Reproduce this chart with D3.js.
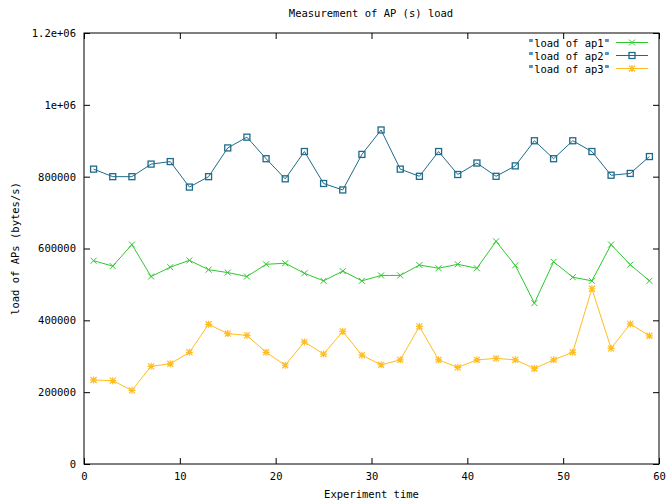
<!DOCTYPE html>
<html>
<head>
<meta charset="utf-8">
<script src="https://cdn.jsdelivr.net/npm/d3@7"></script>
<style>
  body { margin: 0; background: #fff; }
  text { font-family: "DejaVu Sans Mono", monospace; font-size: 10.5px; fill: #000; }
  .axis path, .axis line { stroke: #000; }
</style>
</head>
<body>
<div id="chart"></div>
<script>
// experiment time (x) for every sample
const times = [1, 3, 5, 7, 9, 11, 13, 15, 17, 19, 21, 23, 25, 27, 29,
               31, 33, 35, 37, 39, 41, 43, 45, 47, 49, 51, 53, 55, 57, 59];

const ap1 = [566000, 551000, 611000, 522000, 548000, 567000, 541000, 533000, 522000, 556000,
             559000, 531000, 510000, 537000, 510000, 525000, 525000, 554000, 545000, 556000,
             545000, 620000, 553000, 448000, 563000, 520000, 510000, 611000, 555000, 510000];

const ap2 = [821000, 800000, 800000, 835000, 842000, 771000, 800000, 880000, 910000, 850000,
             794000, 870000, 781000, 763000, 862000, 930000, 821000, 801000, 870000, 806000,
             838000, 801000, 830000, 900000, 850000, 900000, 870000, 804000, 809000, 856000];

const ap3 = [234000, 232000, 205000, 272000, 279000, 311000, 389000, 363000, 358000, 311000,
             275000, 340000, 306000, 369000, 303000, 276000, 290000, 383000, 290000, 269000,
             290000, 294000, 290000, 266000, 290000, 311000, 488000, 322000, 390000, 357000];

const xTicks = [0, 10, 20, 30, 40, 50, 60];
const yTicks = [0, 200000, 400000, 600000, 800000, 1000000, 1200000];
const yTickLabels = ["0", "200000", "400000", "600000", "800000", "1e+06", "1.2e+06"];

const series = [
  { name: '"load of ap1"', values: ap1, color: "#2ec82e", marker: "cross" },
  { name: '"load of ap2"', values: ap2, color: "#1f6a8a", marker: "square" },
  { name: '"load of ap3"', values: ap3, color: "#ffbd1f", marker: "star" }
];

const W = 667, H = 504;
const margin = { top: 33, right: 8, bottom: 40, left: 84 };
const width = W - margin.left - margin.right;
const height = H - margin.top - margin.bottom;

const svg = d3.select("#chart").append("svg")
  .attr("width", W)
  .attr("height", H);

const g = svg.append("g")
  .attr("transform", "translate(" + margin.left + "," + margin.top + ")");

const x = d3.scaleLinear().domain([0, 60]).range([0, width]);
const y = d3.scaleLinear().domain([0, 1200000]).range([height, 0]);

// axes, gnuplot style: ticks inside, mirrored on top and right
g.append("g").attr("class", "axis")
  .attr("transform", "translate(0," + height + ")")
  .call(d3.axisBottom(x).tickValues(xTicks).tickSizeInner(-6).tickSizeOuter(0).tickPadding(9))
  .call(a => a.select(".domain").remove());

g.append("g").attr("class", "axis")
  .call(d3.axisTop(x).tickValues(xTicks).tickSizeInner(-6).tickSizeOuter(0).tickFormat(""))
  .call(a => a.select(".domain").remove());

g.append("g").attr("class", "axis")
  .call(d3.axisLeft(y).tickValues(yTicks).tickSizeInner(-6).tickSizeOuter(0).tickPadding(8)
    .tickFormat((d, i) => yTickLabels[i]))
  .call(a => a.select(".domain").remove());

g.append("g").attr("class", "axis")
  .attr("transform", "translate(" + width + ",0)")
  .call(d3.axisRight(y).tickValues(yTicks).tickSizeInner(-6).tickSizeOuter(0).tickFormat(""))
  .call(a => a.select(".domain").remove());

g.selectAll(".axis text").style("font-family", '"DejaVu Sans Mono", monospace').style("font-size", "10.5px");

// plot border
g.append("rect")
  .attr("width", width).attr("height", height)
  .attr("fill", "none").attr("stroke", "#000");

// markers
function drawMarker(sel, type, color) {
  if (type === "cross") {
    sel.append("path").attr("d", "M-3,-3L3,3M-3,3L3,-3")
      .attr("stroke", color).attr("fill", "none");
  } else if (type === "square") {
    sel.append("rect").attr("x", -3).attr("y", -3).attr("width", 6).attr("height", 6)
      .attr("stroke", color).attr("fill", "none").attr("stroke-width", 1.3);
  } else {
    sel.append("path").attr("d", "M-3,-3L3,3M-3,3L3,-3M0,-3.5L0,3.5M-3.5,0L3.5,0")
      .attr("stroke", color).attr("fill", "none").attr("stroke-width", 1.2);
  }
}

const line = d3.line()
  .x((d, i) => x(times[i]))
  .y(d => y(d));

series.forEach(s => {
  g.append("path")
    .datum(s.values)
    .attr("fill", "none")
    .attr("stroke", s.color)
    .attr("stroke-width", 1)
    .attr("d", line);

  g.selectAll(null)
    .data(s.values)
    .enter().append("g")
    .attr("transform", (d, i) => "translate(" + x(times[i]) + "," + y(d) + ")")
    .each(function() { drawMarker(d3.select(this), s.marker, s.color); });
});

// legend
const legend = svg.append("g");
series.forEach((s, i) => {
  const ly = 42.5 + i * 13;
  legend.append("text")
    .attr("x", 610).attr("y", ly + 4)
    .attr("text-anchor", "end")
    .text(s.name);
  legend.append("line")
    .attr("x1", 616).attr("x2", 648).attr("y1", ly).attr("y2", ly)
    .attr("stroke", s.color);
  drawMarker(legend.append("g").attr("transform", "translate(632," + ly + ")"), s.marker, s.color);
});

// titles
svg.append("text")
  .attr("x", 371).attr("y", 17)
  .attr("text-anchor", "middle")
  .text("Measurement of AP (s) load");

svg.append("text")
  .attr("x", margin.left + width / 2).attr("y", 498)
  .attr("text-anchor", "middle")
  .text("Experiment time");

svg.append("text")
  .attr("transform", "translate(19," + (margin.top + height / 2) + ") rotate(-90)")
  .attr("text-anchor", "middle")
  .text("load of APs (bytes/s)");
</script>
</body>
</html>
